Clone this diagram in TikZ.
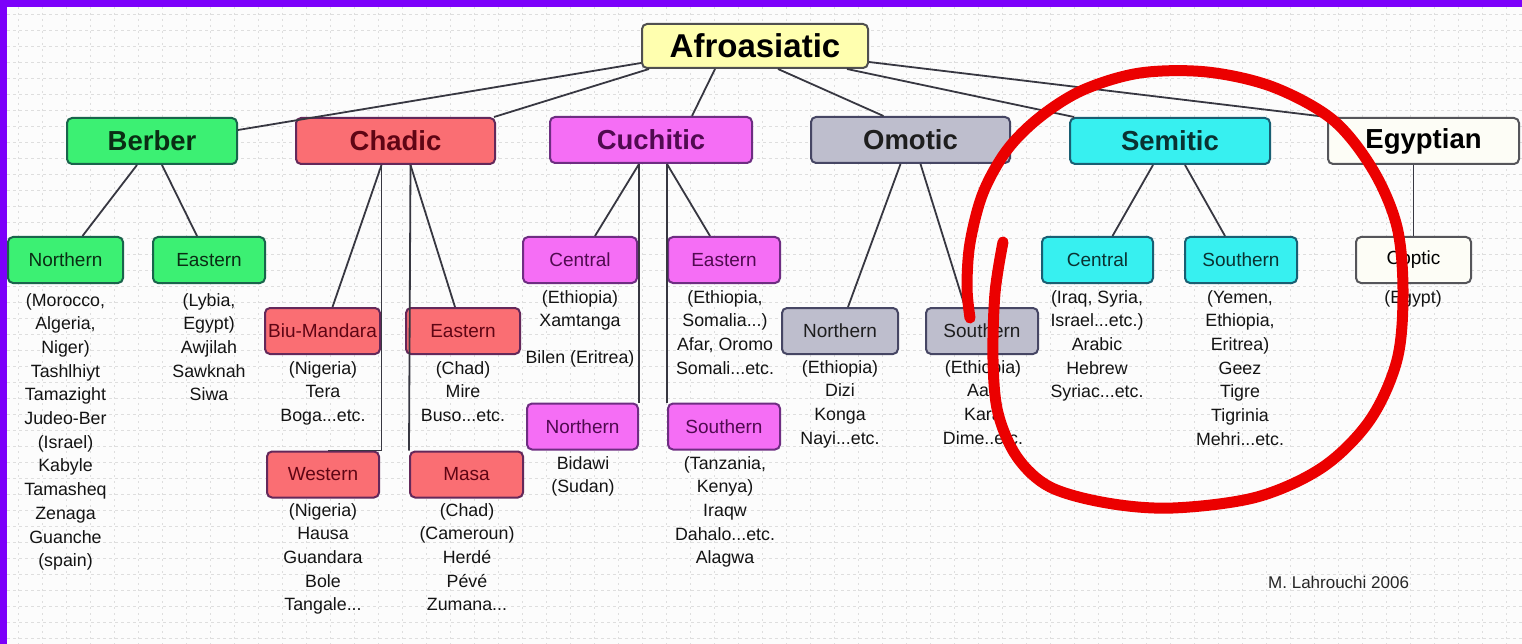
\documentclass[tikz,border=0pt]{standalone}
\usepackage{fontspec}
\setmainfont{Liberation Sans}
\newcommand\fs[2]{\fontsize{#1}{#2}\selectfont}
\newcommand\desclines[1]{\begin{tabular}[t]{@{}c@{}}#1\end{tabular}}
\definecolor{purp}{RGB}{124,0,250}
\definecolor{gridc}{RGB}{222,222,222}
\definecolor{linec}{RGB}{55,55,65}
\definecolor{afrofill}{RGB}{255,255,175}
\definecolor{afrodraw}{RGB}{80,80,80}
\definecolor{berfill}{RGB}{60,240,115}
\definecolor{berdraw}{RGB}{25,100,75}
\definecolor{bertext}{RGB}{10,45,20}
\definecolor{chafill}{RGB}{250,110,115}
\definecolor{chadraw}{RGB}{100,40,90}
\definecolor{chatext}{RGB}{95,5,20}
\definecolor{cufill}{RGB}{245,110,245}
\definecolor{cudraw}{RGB}{110,45,130}
\definecolor{cutext}{RGB}{80,10,80}
\definecolor{omfill}{RGB}{190,190,205}
\definecolor{omdraw}{RGB}{70,70,100}
\definecolor{omtext}{RGB}{30,30,30}
\definecolor{sefill}{RGB}{55,240,240}
\definecolor{sedraw}{RGB}{25,95,115}
\definecolor{setext}{RGB}{10,50,50}
\definecolor{egfill}{RGB}{253,253,246}
\definecolor{egdraw}{RGB}{85,85,90}
\definecolor{desctext}{RGB}{20,20,20}
\definecolor{circ}{RGB}{235,0,0}
\begin{document}
\begin{tikzpicture}[x=1pt,y=-1pt,
 box/.style={rounded corners=5pt, line width=2pt, inner sep=0pt, minimum height=46pt},
 head/.style={box, font=\fs{27.5}{30}\bfseries},
 sub/.style={box, font=\fs{19}{22}},
 conn/.style={draw=linec, line width=1.8pt},
 desc/.style={anchor=base, inner sep=0pt, font=\fs{17.8}{23.7}, text=desctext},
 ber/.style={fill=berfill, draw=berdraw, text=bertext},
 cha/.style={fill=chafill, draw=chadraw, text=chatext},
 cu/.style={fill=cufill, draw=cudraw, text=cutext},
 om/.style={fill=omfill, draw=omdraw, text=omtext},
 se/.style={fill=sefill, draw=sedraw, text=setext},
 eg/.style={fill=egfill, draw=egdraw, text=black},
 gridline/.style={gridc, line width=0.7pt}
]
\useasboundingbox (0,0) rectangle (1522,644);
\fill[white!98!gray] (0,0) rectangle (1522,644);
\foreach \y in {14,30,...,644} \draw[gridline, dash pattern=on 3pt off 3pt] (7,\y) -- (1522,\y);
\foreach \x in {18,42,...,1522} \draw[gridline, dash pattern=on 2pt off 4pt] (\x,7) -- (\x,644);
\fill[purp] (0,0) rectangle (1522,7);
\fill[purp] (0,0) rectangle (7,644);

% root
\node[box, fill=afrofill, draw=afrodraw, font=\fs{33}{36}\bfseries, minimum width=226pt, minimum height=44pt] (afro) at (755,46) {Afroasiatic};

% level 1
\node[head, ber, minimum width=170pt] (berber) at (152,141) {Berber};
\node[head, cha, minimum width=199pt] (chadic) at (395.5,141) {Chadic};
\node[head, cu, minimum width=202pt] (cuch) at (651,140) {Cuchitic};
\node[head, om, minimum width=199pt] (omotic) at (910.5,140) {Omotic};
\node[head, se, minimum width=200pt] (semitic) at (1170,141) {Semitic};
\node[head, eg, minimum width=191pt] (egypt) at (1423.5,141) {Egyptian};

% Berber
\node[sub, ber, minimum width=115pt] (bnorth) at (65.5,260) {Northern};
\node[sub, ber, minimum width=112pt] (beast) at (209,260) {Eastern};
% Chadic
\node[sub, cha, minimum width=115pt] (biu) at (322.5,331) {Biu-Mandara};
\node[sub, cha, minimum width=114pt] (cheast) at (463,331) {Eastern};
\node[sub, cha, minimum width=112pt] (western) at (323,474.5) {Western};
\node[sub, cha, minimum width=113pt] (masa) at (466.5,474.5) {Masa};
% Cuchitic
\node[sub, cu, minimum width=114pt] (cucentral) at (580,260) {Central};
\node[sub, cu, minimum width=112pt] (cueast) at (724,260) {Eastern};
\node[sub, cu, minimum width=111pt] (cunorth) at (582.5,426.5) {Northern};
\node[sub, cu, minimum width=112pt] (cusouth) at (724,426.5) {Southern};
% Omotic
\node[sub, om, minimum width=116pt] (omnorth) at (840,331) {Northern};
\node[sub, om, minimum width=112pt] (omsouth) at (982,331) {Southern};
% Semitic
\node[sub, se, minimum width=111pt] (secentral) at (1097.5,260) {Central};
\node[sub, se, minimum width=112pt] (sesouth) at (1241,260) {Southern};
% Egyptian
\node[sub, eg, minimum width=115pt] (coptic) at (1413.5,260) {Coptic};

% connectors from root
\draw[conn] ([yshift=11pt]berber.east) -- ([yshift=-17pt]afro.west);
\draw[conn] ([xshift=-2pt]chadic.north east) -- ([xshift=8pt]afro.south west);
\draw[conn] ([xshift=41pt]cuch.north) -- ([xshift=-40pt]afro.south);
\draw[conn] ([xshift=-27pt]omotic.north) -- ([xshift=23pt]afro.south);
\draw[conn] ([xshift=5pt]semitic.north west) -- ([xshift=92pt]afro.south);
\draw[conn] (egypt.north west) -- ([yshift=-16pt]afro.east);

% Berber children
\draw[conn] ([xshift=-15pt]berber.south) -- ([xshift=17pt]bnorth.north);
\draw[conn] ([xshift=10pt]berber.south) -- ([xshift=-12pt]beast.north);
% Chadic children
\draw[conn] ([xshift=-14pt]chadic.south) -- ([xshift=10pt]biu.north);
\draw[conn] ([xshift=15pt]chadic.south) -- ([xshift=-8pt]cheast.north);
\draw[conn] ([xshift=-14pt]chadic.south) |- ([xshift=5pt]western.north);
\draw[conn] ([xshift=15pt]chadic.south) -- (masa.north west);
% Cuchitic children
\draw[conn] ([xshift=-12pt]cuch.south) -- ([xshift=15pt]cucentral.north);
\draw[conn] ([xshift=-12pt]cuch.south) -- (cunorth.north east);
\draw[conn] ([xshift=16pt]cuch.south) -- (cusouth.north west);
\draw[conn] ([xshift=16pt]cuch.south) -- ([xshift=-14pt]cueast.north);
% Omotic children
\draw[conn] ([xshift=-10pt]omotic.south) -- ([xshift=8pt]omnorth.north);
\draw[conn] ([xshift=10pt]omotic.south) -- ([xshift=-17pt]omsouth.north);
% Semitic children
\draw[conn] ([xshift=-17pt]semitic.south) -- ([xshift=15pt]secentral.north);
\draw[conn] ([xshift=15pt]semitic.south) -- ([xshift=-16pt]sesouth.north);
% Egyptian child
\draw[conn] (coptic.north |- egypt.south) -- (coptic.north);

% descriptions
\node[desc] (dbn) at (65.5,306) {\desclines{(Morocco,\\Algeria,\\Niger)\\Tashlhiyt\\Tamazight\\Judeo-Ber\\(Israel)\\Kabyle\\Tamasheq\\Zenaga\\Guanche\\(spain)}};
\node[desc] (dbe) at (209,306) {\desclines{(Lybia,\\Egypt)\\Awjilah\\Sawknah\\Siwa}};
\node[desc] (dbiu) at (323,374) {\desclines{(Nigeria)\\Tera\\Boga...etc.}};
\node[desc] (dche) at (463,374) {\desclines{(Chad)\\Mire\\Buso...etc.}};
\node[desc] (dwes) at (323,516) {\desclines{(Nigeria)\\Hausa\\Guandara\\Bole\\Tangale...}};
\node[desc] (dmasa) at (467,516) {\desclines{(Chad)\\(Cameroun)\\Herdé\\Pévé\\Zumana...}};
\node[desc] (dcuc) at (580,303) {\desclines{(Ethiopia)\\Xamtanga\\[13pt]Bilen (Eritrea)}};
\node[desc] (dcue) at (725,303) {\desclines{(Ethiopia,\\Somalia...)\\Afar, Oromo\\Somali...etc.}};
\node[desc] (dcun) at (583,469) {\desclines{Bidawi\\(Sudan)}};
\node[desc] (dcus) at (725,469) {\desclines{(Tanzania,\\Kenya)\\Iraqw\\Dahalo...etc.\\Alagwa}};
\node[desc] (domn) at (840,373) {\desclines{(Ethiopia)\\Dizi\\Konga\\Nayi...etc.}};
\node[desc] (doms) at (983,373) {\desclines{(Ethiopia)\\Aari\\Kara\\Dime..etc.}};
\node[desc] (dsec) at (1097,303) {\desclines{(Iraq, Syria,\\Israel...etc.)\\Arabic\\Hebrew\\Syriac...etc.}};
\node[desc] (dses) at (1240,303) {\desclines{(Yemen,\\Ethiopia,\\Eritrea)\\Geez\\Tigre\\Tigrinia\\Mehri...etc.}};
\node[desc] (dcop) at (1413,303) {\desclines{(Egypt)}};

\node[anchor=west, inner sep=0pt, font=\fs{17}{20}, text=black!85] (credit) at (1268,582) {M. Lahrouchi 2006};

% red hand-drawn loop
\draw[circ, line width=11pt, line cap=round, line join=round] plot[smooth, tension=0.55] coordinates {
(1003,242) (995,293) (993,360) (998,413) (1017,457) (1050,487) (1107,503) (1173,508) (1257,497) (1323,467) (1370,420) (1397,360) (1403,293) (1397,227) (1373,170) (1333,120) (1273,87) (1207,72) (1140,73) (1083,90) (1040,117) (1007,150) (983,193) (970,243) (967,287) (970,318)};
\end{tikzpicture}
\end{document}
